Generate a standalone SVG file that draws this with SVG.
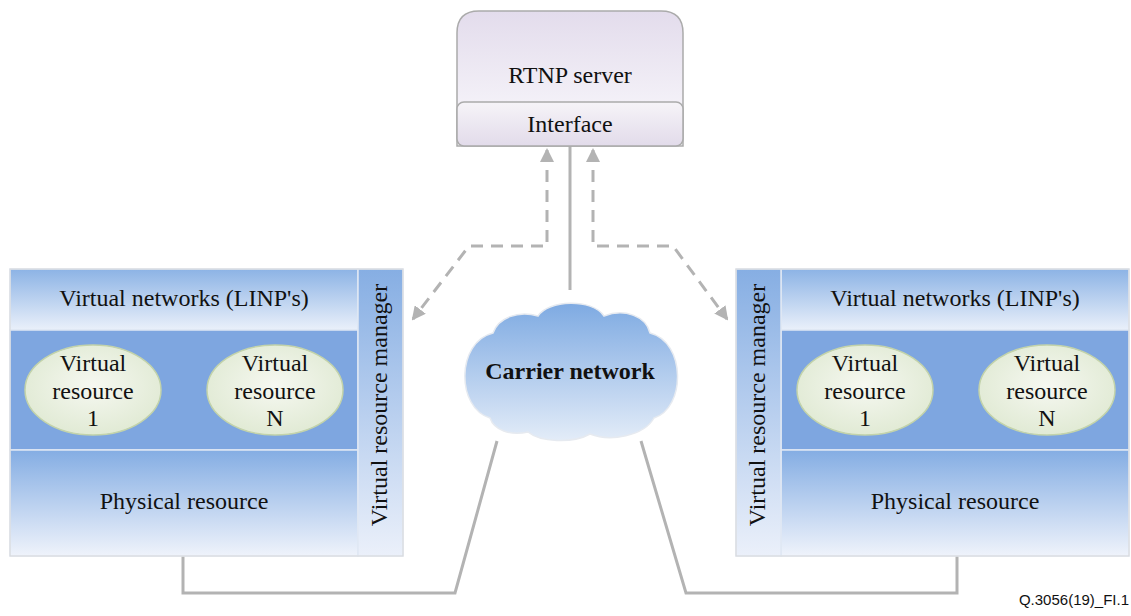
<svg xmlns="http://www.w3.org/2000/svg" width="1131" height="616" viewBox="0 0 1131 616">
<defs>
<linearGradient id="gServer" x1="0" y1="0" x2="0" y2="1"><stop offset="0" stop-color="#e3dcec"/><stop offset="1" stop-color="#fbfafd"/></linearGradient>
<linearGradient id="gIf" x1="0" y1="0" x2="0" y2="1"><stop offset="0" stop-color="#f6f4f8"/><stop offset="1" stop-color="#e2dbea"/></linearGradient>
<linearGradient id="gTop" x1="0" y1="0" x2="0" y2="1"><stop offset="0" stop-color="#8cb3e5"/><stop offset="1" stop-color="#eaf0fa"/></linearGradient>
<linearGradient id="gPhys" x1="0" y1="0" x2="0" y2="1"><stop offset="0" stop-color="#84ade3"/><stop offset="1" stop-color="#eff3fb"/></linearGradient>
<linearGradient id="gMgr" x1="0" y1="0" x2="0" y2="1"><stop offset="0" stop-color="#86aee3"/><stop offset="1" stop-color="#ebf0fa"/></linearGradient>
<linearGradient id="gCloud" x1="0" y1="0" x2="0" y2="1"><stop offset="0" stop-color="#7eaae2"/><stop offset="1" stop-color="#e3ecf8"/></linearGradient>
<radialGradient id="gEll" cx="0.5" cy="0.45" r="0.6"><stop offset="0" stop-color="#f6f8f1"/><stop offset="1" stop-color="#dfe9d2"/></radialGradient>
<marker id="ah" viewBox="0 0 14 14" refX="12" refY="7" markerWidth="14" markerHeight="14" markerUnits="userSpaceOnUse" orient="auto-start-reverse"><path d="M0,0 L14,7 L0,14 Z" fill="#b3b3b3"/></marker>
</defs>
<style>
.t{font-family:"Liberation Serif","Times New Roman",serif;font-size:24px;fill:#111;text-anchor:middle}
.band{stroke:#dfe7f3;stroke-width:1.5}
.ell{fill:url(#gEll);stroke:#c3d3aa;stroke-width:1.5}
.c{fill:none;stroke:#b3b3b3;stroke-width:3}
.d{fill:none;stroke:#b3b3b3;stroke-width:3;stroke-dasharray:12 8}
</style>

<g id="connectors">
<path class="c" d="M570,146 L570,290"/>
<path class="d" d="M547,150 L547,246 L469,246 L413,319" marker-start="url(#ah)" marker-end="url(#ah)"/>
<path class="d" d="M593,150 L593,246 L673,246 L727,319" marker-start="url(#ah)" marker-end="url(#ah)"/>
<path class="c" d="M183,556 L183,593 L455,593 L497,441"/>
<path class="c" d="M641,441 L686,593 L957,593 L957,556"/>
</g>

<g id="rtnp-server">
<path d="M457,146 L457,33 Q457,11 479,11 L661,11 Q683,11 683,33 L683,146 Z" fill="url(#gServer)" stroke="#ababab" stroke-width="1.5"/>
<rect x="457" y="102" width="226" height="44" rx="7" fill="url(#gIf)" stroke="#ababab" stroke-width="1.5"/>
<text class="t" x="570" y="83">RTNP server</text>
<text class="t" x="570" y="132">Interface</text>
</g>

<g id="carrier-network">
<path d="M490,418 C456,408 456,342 493,333 C498,318 518,310 538,316 C548,300 592,298 604,316 C624,308 646,316 650,333 C686,342 686,408 654,418 C644,436 610,442 590,434 C572,444 540,442 528,432 C510,436 494,430 490,418 Z" fill="url(#gCloud)" stroke="#e6eaf0" stroke-width="1.5"/>
<text class="t" x="570" y="379" style="font-weight:bold">Carrier network</text>
</g>

<g id="left-block">
<rect x="10" y="269" width="348" height="61" class="band" fill="url(#gTop)"/>
<rect x="10" y="330" width="348" height="120" class="band" fill="#7ea6e0"/>
<rect x="10" y="450" width="348" height="106" class="band" fill="url(#gPhys)"/>
<rect x="358" y="269" width="45" height="287" class="band" fill="url(#gMgr)"/>
<rect x="10" y="269" width="393" height="287" fill="none" stroke="#dadada" stroke-width="1"/>
<text class="t" x="184" y="306">Virtual networks (LINP's)</text>
<text class="t" x="184" y="509">Physical resource</text>
<text class="t" transform="translate(387,405) rotate(-90)">Virtual resource manager</text>
<ellipse class="ell" cx="93" cy="390" rx="68" ry="45"/>
<text class="t" x="93" y="371">Virtual</text>
<text class="t" x="93" y="399">resource</text>
<text class="t" x="93" y="426">1</text>
<ellipse class="ell" cx="275" cy="390" rx="68" ry="45"/>
<text class="t" x="275" y="371">Virtual</text>
<text class="t" x="275" y="399">resource</text>
<text class="t" x="275" y="426">N</text>
</g>

<g id="right-block">
<rect x="781" y="269" width="348" height="61" class="band" fill="url(#gTop)"/>
<rect x="781" y="330" width="348" height="120" class="band" fill="#7ea6e0"/>
<rect x="781" y="450" width="348" height="106" class="band" fill="url(#gPhys)"/>
<rect x="736" y="269" width="45" height="287" class="band" fill="url(#gMgr)"/>
<rect x="736" y="269" width="393" height="287" fill="none" stroke="#dadada" stroke-width="1"/>
<text class="t" x="955" y="306">Virtual networks (LINP's)</text>
<text class="t" x="955" y="509">Physical resource</text>
<text class="t" transform="translate(765,405) rotate(-90)">Virtual resource manager</text>
<ellipse class="ell" cx="865" cy="390" rx="68" ry="45"/>
<text class="t" x="865" y="371">Virtual</text>
<text class="t" x="865" y="399">resource</text>
<text class="t" x="865" y="426">1</text>
<ellipse class="ell" cx="1047" cy="390" rx="68" ry="45"/>
<text class="t" x="1047" y="371">Virtual</text>
<text class="t" x="1047" y="399">resource</text>
<text class="t" x="1047" y="426">N</text>
</g>

<text x="1129" y="605" style="font-family:'Liberation Sans',Arial,sans-serif;font-size:15px;fill:#111;text-anchor:end">Q.3056(19)_FI.1</text>
</svg>
